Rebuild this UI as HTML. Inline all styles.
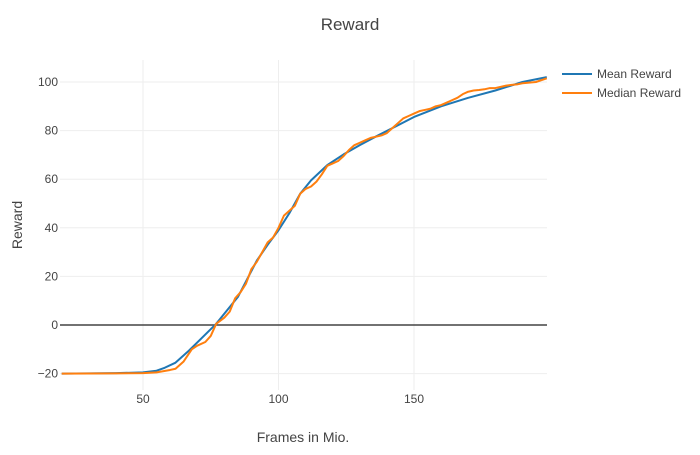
<!DOCTYPE html>
<html><head><meta charset="utf-8"><style>
body{margin:0;background:#fff;font-family:"Liberation Sans",sans-serif}
svg text{font-family:"Liberation Sans",sans-serif;fill:#444}
</style></head><body>
<svg width="700" height="450">
<rect width="700" height="450" fill="#fff"/>
<g id="grid"></g>
<g id="marks"></g>
<g id="ticks"></g>
<text x="350" y="30" text-anchor="middle" font-size="17">Reward</text>
<text x="303" y="442" text-anchor="middle" font-size="14">Frames in Mio.</text>
<text transform="translate(22,225) rotate(-90)" text-anchor="middle" font-size="14">Reward</text>
<g>
<g><line x1="562" y1="74" x2="592" y2="74" stroke="#1f77b4" stroke-width="2"/><text x="597" y="78" font-size="12">Mean Reward</text></g>
<g><line x1="562" y1="93" x2="592" y2="93" stroke="#ff7f0e" stroke-width="2"/><text x="597" y="97" font-size="12">Median Reward</text></g>
</g>
</svg>
<script>
const meanX=[20,40,50,55,58,62,67,72,77,85,92,96,100,104,108,112,118,124,130,136,142,150,160,170,180,190,199];
const meanY=[-20,-19.8,-19.5,-18.8,-17.6,-15.5,-10.5,-5,0.5,11.5,26.5,33,39,46,54,59.5,65.8,70.2,74,77.6,81,85.6,90,93.5,96.5,100,102];
const medX=[20,40,50,55,60,62,65,68,70,73,75,77,80,82,84,86,88,90,92,94,96,98,100,102,104,106,108,110,112,114,116,118,120,122,124,126,128,130,132,134,136,138,140,142,144,146,148,150,152,154,156,158,160,162,164,166,168,170,172,174,176,178,180,182,184,186,188,190,195,199];
const medY=[-20,-19.9,-19.8,-19.5,-18.5,-18,-15,-10,-8.5,-7,-4.5,0.5,3,5.5,11,13.5,17,23,26,30,34,36,40,45,47,49,54,56,57,59,62,65.5,66.5,67.5,69.5,72,74,75,76,77,77.5,78,79,81,83,85,86,87,88,88.5,89,90,90.5,91.5,92.5,93.5,95,96,96.5,96.7,97,97.5,97.5,98,98.5,98.8,99,99.5,100,101.5];
const xTicks=[50,100,150];
const yTicks=[-20,0,20,40,60,80,100];
const L=60,R=547,T=60,B=390;
const X=v=>143+(v-50)*2.71;
const Y=v=>325-v*2.43;
const ns="http://www.w3.org/2000/svg";
const grid=document.getElementById('grid'),ticks=document.getElementById('ticks'),marks=document.getElementById('marks');
function mk(tag,a,p){const e=document.createElementNS(ns,tag);for(const k in a)e.setAttribute(k,a[k]);p.appendChild(e);return e;}
xTicks.forEach(t=>{
 const g=mk('line',{x1:X(t),x2:X(t),y1:T,y2:B,stroke:'#eee'},grid);
 
 
 const tx=mk('text',{x:X(t),y:403,'text-anchor':'middle','font-size':12},ticks);tx.textContent=t;
 
 
});
yTicks.forEach(t=>{
 const g=mk('line',{x1:L,x2:R,y1:Y(t),y2:Y(t),stroke:t===0?'#444':'#eee','stroke-width':t===0?1.5:1},grid);
 
 
 const tx=mk('text',{x:58,y:Y(t)+4,'text-anchor':'end','font-size':12},ticks);tx.textContent=t<0?'\u2212'+(-t):t;
 
 
});
function line(xs,ys,c,name){
 const p=mk('polyline',{points:xs.map((x,i)=>X(x)+','+Y(ys[i])).join(' '),fill:'none',stroke:c,'stroke-width':2,'stroke-linejoin':'round'},marks);
 
 
}
line(meanX,meanY,'#1f77b4','mean-reward-line');
line(medX,medY,'#ff7f0e','median-reward-line');
</script>
</body></html>
